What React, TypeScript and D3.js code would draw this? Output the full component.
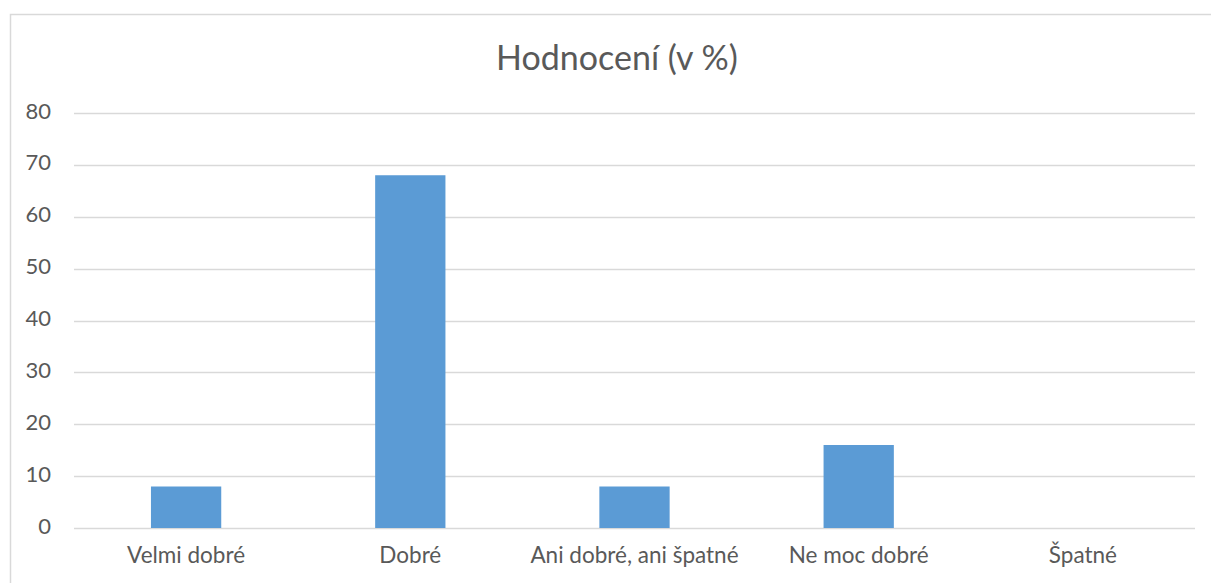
import React from 'react';
import * as d3 from 'd3';

const categories = ['Velmi dobré', 'Dobré', 'Ani dobré, ani špatné', 'Ne moc dobré', 'Špatné'];
const values = [8, 68, 8, 16, 0];
const yTicks = [0, 10, 20, 30, 40, 50, 60, 70, 80];
const title = 'Hodnocení (v %)';

const W = 1211;
const H = 583;
const left = 74;
const right = 1195;
const top = 113;
const bottom = 528;
const font = 'Lato, "Open Sans", sans-serif';
const textColor = '#595959';
const gridColor = '#d9d9d9';

const App = () => {
    const x = d3.scaleBand<string>().domain(categories).range([left, right]).padding(0);
    const y = d3.scaleLinear().domain([0, 80]).range([bottom, top]);
    const barW = x.bandwidth() / 3.19;

    return (
        <svg width={W} height={H} style={{ position: 'absolute', left: 0, top: 0, background: '#fff' }}>
            <rect x={10.5} y={14.5} width={W} height={H} fill="#fff" stroke={gridColor} strokeWidth={1.5} />
            <text x={617} y={61} textAnchor="middle" dominantBaseline="middle" fontFamily={font} fontSize={34} fill={textColor}>
                {title}
            </text>
            {yTicks.map(t => (
                <g key={t}>
                    <line x1={left} x2={right} y1={Math.round(y(t)) + 0.5} y2={Math.round(y(t)) + 0.5} stroke={gridColor} strokeWidth={1.5} />
                    <text x={51} y={y(t)} textAnchor="end" dominantBaseline="middle" fontFamily={font} fontSize={22} fill={textColor}>
                        {t}
                    </text>
                </g>
            ))}
            {categories.map((c, i) => (
                <g key={c}>
                    {values[i] > 0 && (
                        <rect
                            x={x(c)! + x.bandwidth() / 2 - barW / 2}
                            y={y(values[i])}
                            width={barW}
                            height={bottom - y(values[i])}
                            fill="#5b9bd5"
                        />
                    )}
                    <text x={x(c)! + x.bandwidth() / 2} y={557} textAnchor="middle" dominantBaseline="middle" fontFamily={font} fontSize={22.5} fill={textColor}>
                        {c}
                    </text>
                </g>
            ))}
        </svg>
    );
};

export default App;
